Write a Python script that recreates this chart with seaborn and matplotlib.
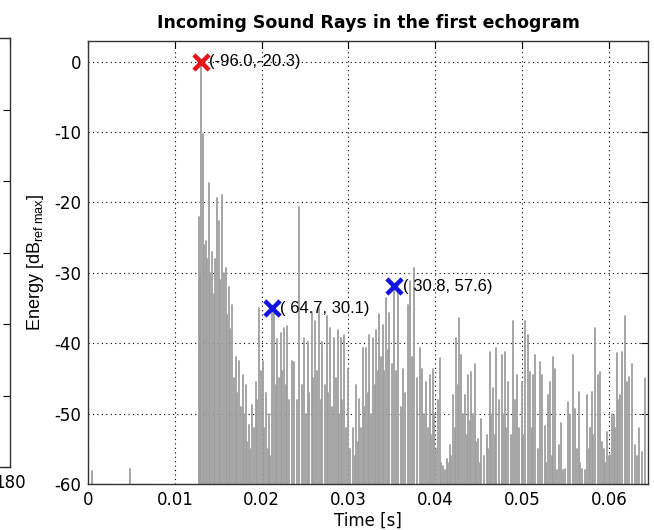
import matplotlib
matplotlib.use("Agg")
import matplotlib.pyplot as plt
from matplotlib.ticker import FuncFormatter
import numpy as np
import pandas as pd
import seaborn as sns

# Echogram: arrival times (ms) and energy levels (dB re. max) of incoming rays
echo_time_ms = [
    0.46, 4.78,
    12.75, 12.95, 13.03, 13.20, 13.40, 13.60, 13.76, 13.90, 14.10, 14.30,
    14.50, 14.68, 14.87, 15.07, 15.26, 15.45, 15.65, 15.84, 16.03, 16.22,
    16.40, 16.60, 16.80, 17.00, 17.20, 17.40, 17.60, 17.80, 17.95, 18.15,
    18.35, 18.50, 18.70, 18.90, 19.10, 19.30, 19.50, 19.70, 19.90, 20.10,
    20.30, 20.50, 20.70, 20.85, 21.00, 21.15, 21.40, 21.60, 21.80, 22.00,
    22.20, 22.40, 22.60, 22.80, 22.97, 23.20, 23.47, 23.74, 24.05, 24.31,
    24.60, 24.90, 25.10, 25.30, 25.50, 25.75, 25.90, 26.10, 26.36, 26.60,
    26.80, 27.00, 27.25, 27.50, 27.70, 27.90, 28.10, 28.36, 28.55, 28.75,
    28.90, 29.10, 29.30, 29.50, 29.70, 29.90, 30.20, 30.50, 30.70, 30.87,
    31.06, 31.25, 31.45, 31.64, 31.83, 32.00, 32.20, 32.40, 32.60, 32.80,
    33.00, 33.20, 33.40, 33.56, 33.76, 33.95, 34.14, 34.34, 34.53, 34.72,
    35.00, 35.30, 35.50, 35.70, 36.00, 36.26, 36.50, 36.85, 37.03, 37.30,
    37.60, 37.90, 38.20, 38.50, 38.70, 38.96, 39.16, 39.34, 39.50, 39.70,
    39.90, 40.10, 40.30, 40.50, 40.70, 40.90, 41.10, 41.30, 41.50, 41.65,
    41.85, 42.04, 42.23, 42.43, 42.62, 42.74, 43.00, 43.20, 43.40, 43.60,
    43.80, 43.97, 44.16, 44.36, 44.55, 44.74, 44.93, 45.12, 45.30, 45.60,
    45.90, 46.09, 46.28, 46.47, 46.67, 46.86, 47.05, 47.30, 47.63, 47.80,
    48.00, 48.20, 48.40, 48.67, 48.90, 49.13, 49.36, 49.60, 49.94, 50.10,
    50.30, 50.64, 50.90, 51.10, 51.30, 51.50, 51.80, 52.06, 52.30, 52.60,
    52.80, 53.00, 53.20, 53.40, 53.60, 53.80, 54.00, 54.20, 54.50, 54.70,
    54.95, 55.26, 55.50, 55.84, 56.10, 56.30, 56.50, 56.70, 56.90, 57.20,
    57.46, 57.65, 57.84, 58.00, 58.20, 58.40, 58.70, 59.00, 59.20, 59.40,
    59.60, 59.80, 59.96, 60.15, 60.35, 60.54, 60.73, 60.90, 61.10, 61.30,
    61.50, 61.80, 62.08, 62.35, 62.66, 62.97, 63.20, 63.50, 63.80, 64.20,
    64.60,
]
echo_level_db = [
    -58.2, -57.8,
    -22.0, -30.0, 0.0, -10.3, -26.0, -25.5, -28.0, -17.3, -30.0, -27.0,
    -33.0, -28.0, -19.3, -22.6, -31.0, -19.0, -30.0, -29.3, -36.0, -32.0,
    -38.0, -34.5, -45.0, -42.0, -47.0, -42.5, -49.0, -44.5, -50.0, -46.0,
    -54.0, -51.6, -55.0, -48.8, -52.0, -45.5, -48.0, -35.0, -44.0, -42.5,
    -52.0, -47.0, -55.0, -50.0, -56.0, -35.0, -35.6, -46.0, -39.4, -45.0,
    -38.5, -44.0, -37.9, -46.0, -37.5, -48.0, -42.5, -42.6, -48.0, -20.7,
    -46.0, -39.3, -50.0, -39.8, -47.0, -35.5, -45.0, -36.9, -44.0, -34.8,
    -48.0, -39.8, -46.0, -36.2, -47.0, -37.9, -49.0, -39.3, -45.0, -38.1,
    -50.0, -39.3, -48.0, -38.8, -52.0, -43.6, -55.0, -52.1, -56.0, -45.9,
    -54.0, -47.9, -52.0, -40.7, -49.0, -40.7, -47.0, -38.8, -50.0, -39.3,
    -46.0, -38.1, -44.0, -35.9, -42.0, -37.4, -44.0, -33.6, -41.0, -35.7,
    -43.0, -31.9, -44.0, -32.6, -49.0, -43.6, -47.0, -34.5, -31.2, -42.0,
    -29.3, -45.0, -40.7, -43.6, -50.0, -45.5, -52.0, -44.5, -53.0, -43.6,
    -50.0, -55.0, -48.0, -42.1, -57.0, -57.4, -58.0, -56.4, -57.0, -54.5,
    -56.0, -47.4, -52.0, -39.3, -46.0, -36.4, -41.7, -50.0, -47.4, -53.0,
    -44.5, -51.0, -44.1, -50.0, -42.9, -54.0, -53.6, -57.0, -50.7, -56.0,
    -53.1, -55.0, -41.2, -50.0, -46.4, -53.0, -40.7, -48.0, -41.7, -50.0,
    -41.2, -52.0, -45.5, -53.0, -36.9, -48.0, -44.5, -52.0, -45.5, -53.0,
    -36.9, -38.8, -44.1, -52.0, -44.5, -41.7, -55.0, -42.6, -44.5, -51.7,
    -57.0, -47.4, -45.5, -56.0, -41.9, -43.6, -58.0, -54.5, -51.4, -58.0,
    -57.9, -48.3, -50.2, -41.7, -49.3, -55.0, -46.9, -57.0, -57.9, -58.0,
    -47.4, -55.0, -52.1, -46.9, -53.0, -37.9, -44.5, -44.1, -54.0, -55.0,
    -57.0, -52.6, -56.0, -55.9, -50.0, -50.2, -52.0, -41.4, -48.0, -47.4,
    -41.2, -36.2, -45.5, -44.8, -42.9, -54.5, -56.0, -52.1, -55.4, -45.0,
    -51.2,
]

# Highlighted rays: time (ms), level (dB), direction (azimuth, elevation)
ray_time_ms = [13.03, 21.15, 35.30]
ray_level_db = [0.0, -35.0, -31.9]
ray_labels = ["(-96.0,-20.3)", "( 64.7, 30.1)", "( 30.8, 57.6)"]
ray_colors = ["#e8141a", "#1414e0", "#1414e0"]

x_ticks = [0.0, 0.01, 0.02, 0.03, 0.04, 0.05, 0.06]
y_ticks = [-60, -50, -40, -30, -20, -10, 0]

sns.set_style("white")
plt.rcParams["font.family"] = ["DejaVu Sans"]
plt.rcParams["axes.unicode_minus"] = False
plt.rcParams["mathtext.fontset"] = "custom"
plt.rcParams["mathtext.rm"] = "Liberation Sans"
plt.rcParams["mathtext.it"] = "Liberation Sans:italic"
plt.rcParams["text.color"] = "black"
plt.rcParams["axes.labelcolor"] = "black"

W, H = 654, 530
fig = plt.figure(figsize=(W / 100, H / 100), dpi=100)

# Neighbouring panel on the left (only its right edge falls inside the figure)
ax_prev = fig.add_axes([-0.5, 1 - 467 / H, 0.5 + 9.5 / W, (467 - 38) / H])
ax_prev.set_xlim(0, 180)
ax_prev.set_xticks([180])
ax_prev.set_ylim(0, 6)
ax_prev.set_yticks(range(7))
ax_prev.set_yticklabels([])
ax_prev.tick_params(direction="in", right=True, top=True, length=5,
                    width=0.8, labelsize=12, pad=5, colors="black")
for s in ax_prev.spines.values():
    s.set_color("#333333")
    s.set_linewidth(1.0)

# Main echogram panel
ax = fig.add_axes([88 / W, 1 - 484 / H, 560 / W, 443 / H])

floor_db = -70.0
stem_rows = []
for i, (t, lv) in enumerate(zip(echo_time_ms, echo_level_db)):
    stem_rows.append({"stem": i, "time": t / 1000.0, "energy": floor_db})
    stem_rows.append({"stem": i, "time": t / 1000.0, "energy": lv})
stems = pd.DataFrame(stem_rows)

sns.lineplot(data=stems, x="time", y="energy", units="stem", estimator=None,
             sort=False, color="#9e9e9e", lw=1.3, legend=False, ax=ax,
             zorder=2)

rays = pd.DataFrame({"time": np.array(ray_time_ms) / 1000.0,
                     "energy": ray_level_db, "label": ray_labels})
for (_, r), c in zip(rays.iterrows(), ray_colors):
    sns.scatterplot(x=[r["time"]], y=[r["energy"]], marker="x", s=120,
                    linewidth=3.2, color=c, ax=ax, zorder=5, legend=False)
    ax.annotate(r["label"], (r["time"], r["energy"]), xytext=(6, 0),
                textcoords="offset points", ha="left", va="center",
                fontsize=12, family="Liberation Sans", color="black",
                zorder=6)

ax.set_xlim(0, 0.0645)
ax.set_ylim(-60, 2.94)
ax.set_xticks(x_ticks)
ax.set_yticks(y_ticks)
ax.xaxis.set_major_formatter(FuncFormatter(lambda v, _: "0" if v == 0 else f"{v:g}"))
ax.yaxis.set_major_formatter(FuncFormatter(lambda v, _: f"{v:g}"))
ax.grid(True, linestyle=(0, (1, 3)), color="black", linewidth=0.8, zorder=1)
ax.set_axisbelow(True)
ax.tick_params(direction="in", top=True, right=True, length=5, width=0.8,
               labelsize=12, pad=5, colors="black")
for s in ax.spines.values():
    s.set_color("#333333")
    s.set_linewidth(1.0)

ax.set_title("Incoming Sound Rays in the first echogram", fontsize=12.5,
             fontweight="bold", pad=9, color="black")
ax.set_xlabel("Time [s]", fontsize=12, labelpad=2)
ax.set_ylabel(r"Energy [dB$_{\mathrm{ref\ max}}$]", fontsize=13,
              family="Liberation Sans")
ax.yaxis.set_label_coords(-0.075, 0.5)

fig.savefig("out.png", dpi=100)
